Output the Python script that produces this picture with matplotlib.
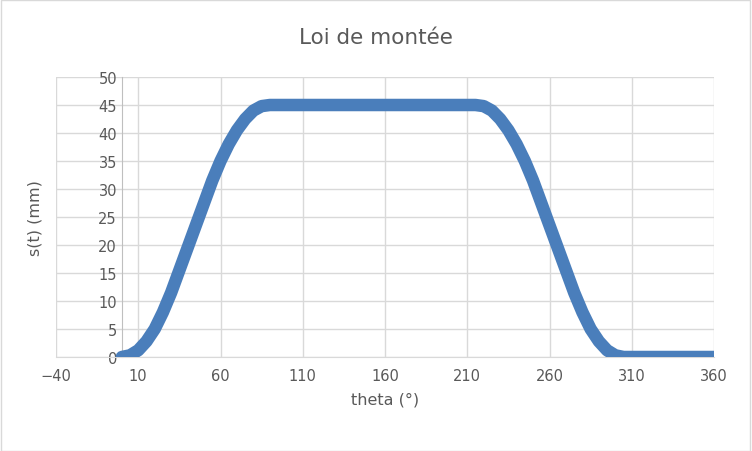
import matplotlib.pyplot as plt
import numpy as np

# values, every 5 degrees
rise = [0, 0.3, 1.2, 2.8, 5, 8, 11.5, 15.5, 19.5, 23.5, 27.5, 31.5, 35, 38, 40.5, 42.5, 44, 44.8, 45]
theta = list(range(0, 365, 5))
s = rise + [45] * 25 + rise[::-1][1:] + [0] * 11

fig = plt.figure(figsize=(7.52, 4.52), dpi=100)
ax = fig.add_axes([56 / 752, 1 - 358 / 452, 658 / 752, 280 / 452])
ax.plot(theta, s, color='#4a7ebb', lw=9, solid_capstyle='round', solid_joinstyle='round', zorder=3)

ax.set_xlim(-40, 360)
ax.set_ylim(0, 50)
ax.set_xticks(np.arange(-40, 361, 50))
ax.set_yticks(np.arange(0, 51, 5))
ax.grid(color='#d9d9d9', lw=1)
ax.set_axisbelow(True)
for sp in ['top', 'right']:
    ax.spines[sp].set_visible(False)
ax.spines['left'].set_position(('data', 0))
ax.spines['left'].set_color('#bfbfbf')
ax.spines['bottom'].set_color('#d9d9d9')
ax.tick_params(length=0, colors='#595959', labelsize=10.5)
ax.tick_params(axis='x', pad=8)
ax.set_xlabel('theta (°)', color='#595959', fontsize=11.5, labelpad=6)
ax.set_ylabel('s(t) (mm)', color='#595959', fontsize=11.5)
ax.yaxis.set_label_coords(-0.02, 0.5)
fig.text(0.5, 1 - 38 / 452, 'Loi de montée', ha='center', va='center', fontsize=15.5, color='#595959')
fig.patches.append(plt.Rectangle((0.001, 0.001), 0.997, 0.997, transform=fig.transFigure,
                                 fill=False, edgecolor='#d9d9d9', lw=1))
fig.savefig('out.png', dpi=100)
